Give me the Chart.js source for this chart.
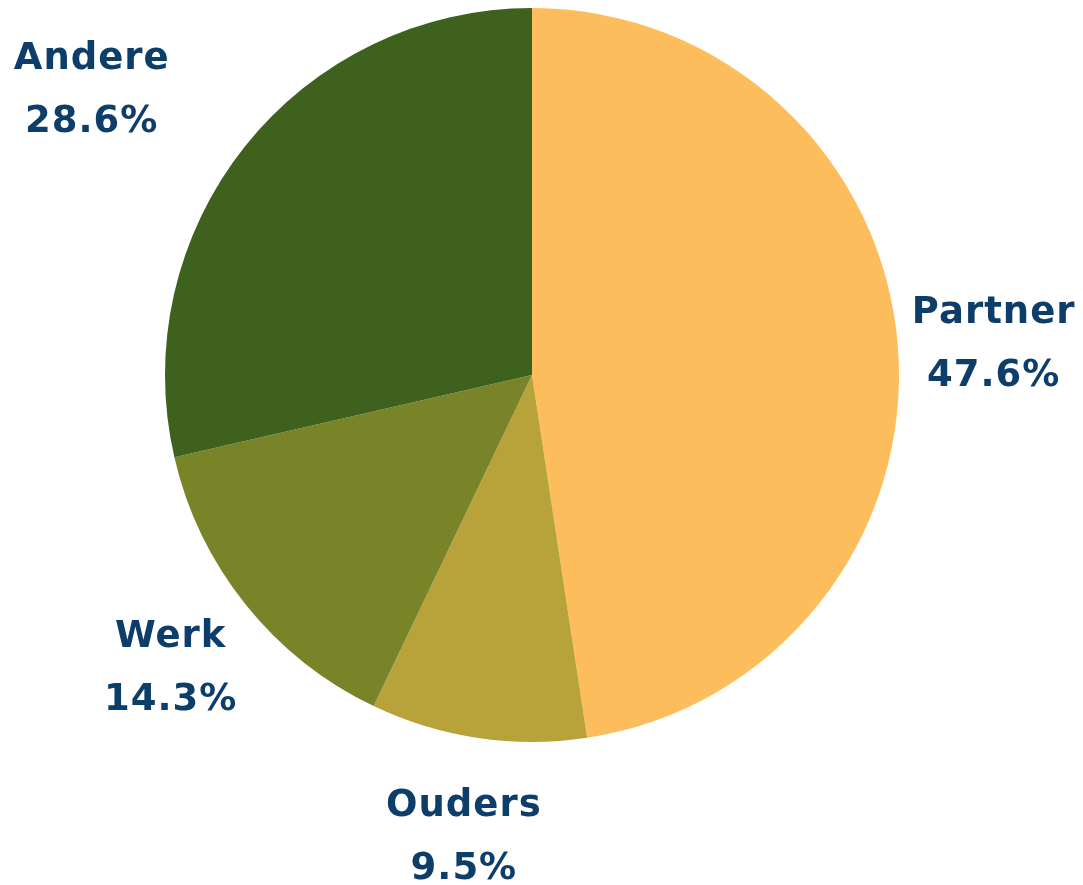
<!DOCTYPE html>
<html>
<head>
<meta charset="utf-8">
<script src="https://cdn.jsdelivr.net/npm/chart.js@4.4.0/dist/chart.umd.min.js"></script>
<style>
  html, body { margin: 0; padding: 0; background: #fff; }
  #wrap { width: 1083px; height: 885px; }
</style>
</head>
<body>
<div id="wrap"><canvas id="pie" width="1083" height="885"></canvas></div>
<script>
// data
const labels = ['Partner', 'Ouders', 'Werk', 'Andere'];
const values = [47.6, 9.5, 14.3, 28.6];
const colors = ['#FDBD5C', '#B8A23A', '#798429', '#3E621E'];

const TEXT_COLOR = '#0d3d69';
const FONT = 'bold 37px "DejaVu Sans", Inter, sans-serif';

// labels buiten de taart, twee regels
const outsideLabels = {
  id: 'outsideLabels',
  afterDatasetsDraw(chart) {
    const ctx = chart.ctx;
    const meta = chart.getDatasetMeta(0);
    ctx.save();
    ctx.font = FONT;
    ctx.letterSpacing = '1px';
    ctx.fillStyle = TEXT_COLOR;
    ctx.textAlign = 'center';
    ctx.textBaseline = 'middle';
    meta.data.forEach((arc, i) => {
      const mid = (arc.startAngle + arc.endAngle) / 2;
      const dist = arc.outerRadius + 96;
      let x = arc.x + Math.cos(mid) * dist;
      let y = arc.y + Math.sin(mid) * dist + 4;
      if (i === 3) x -= 78; // Andere staat meer naar links
      ctx.fillText(labels[i], x, y - 31);
      ctx.fillText(values[i].toFixed(1) + '%', x, y + 32);
    });
    ctx.restore();
  }
};

new Chart(document.getElementById('pie').getContext('2d'), {
  type: 'pie',
  data: {
    labels,
    datasets: [{ data: values, backgroundColor: colors, borderWidth: 0 }]
  },
  options: {
    responsive: false,
    animation: false,
    layout: { padding: { top: 8, bottom: 143, left: 165, right: 184 } },
    plugins: { legend: { display: false }, tooltip: { enabled: false } }
  },
  plugins: [outsideLabels]
});
</script>
</body>
</html>
